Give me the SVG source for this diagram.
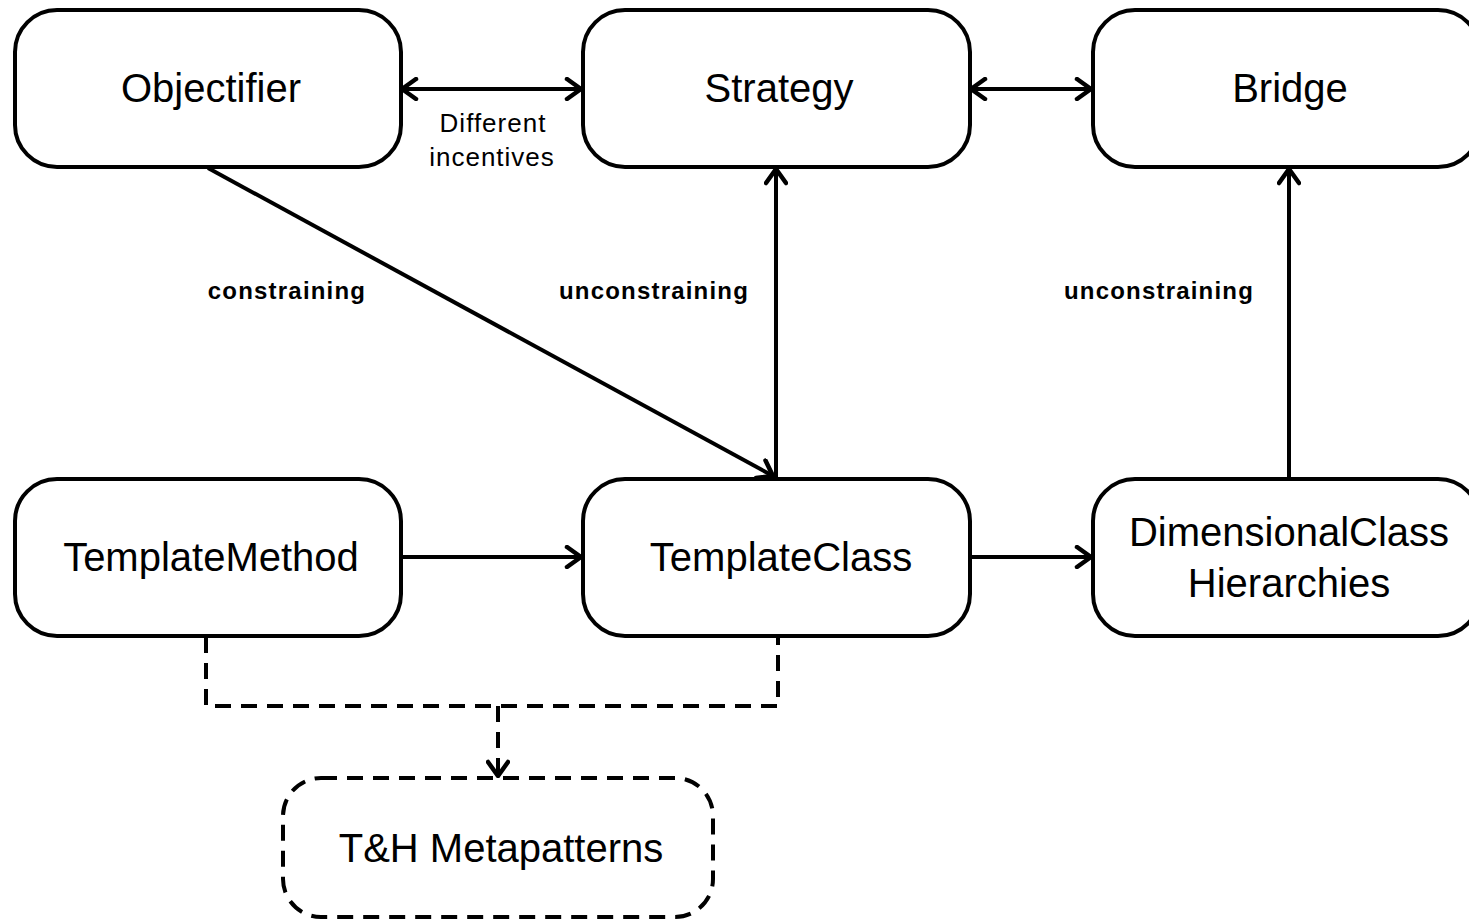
<svg xmlns="http://www.w3.org/2000/svg" width="1469" height="922" viewBox="0 0 1469 922">
  <style>
    .box { fill: #ffffff; stroke: #000000; stroke-width: 4; }
    .dashbox { fill: #ffffff; stroke: #000000; stroke-width: 4; stroke-dasharray: 16 10; }
    .label { font-family: "Liberation Sans", Arial, sans-serif; font-size: 40px; fill: #000000; text-anchor: middle; }
    .small { font-family: "Liberation Sans", Arial, sans-serif; font-size: 26px; letter-spacing: 1px; fill: #000000; text-anchor: middle; }
    .bold { font-family: "Liberation Sans", Arial, sans-serif; font-size: 24px; font-weight: bold; letter-spacing: 1.2px; fill: #000000; text-anchor: middle; }
    .edge { fill: none; stroke: #000000; stroke-width: 4; }
    .dashed { fill: none; stroke: #000000; stroke-width: 4; stroke-dasharray: 16 10; }
  </style>
  <defs>
    <marker id="open" viewBox="0 0 20 24" refX="18" refY="12" markerWidth="20" markerHeight="24" markerUnits="userSpaceOnUse" orient="auto-start-reverse">
      <path d="M4 2 L18 12 L4 22" fill="none" stroke="#000000" stroke-width="4.5" stroke-linecap="round" stroke-linejoin="round"/>
    </marker>
  </defs>
  <rect width="1469" height="922" fill="#ffffff"/>

  <g id="connectors">
    <line class="edge" x1="402" y1="89" x2="581" y2="89" marker-start="url(#open)" marker-end="url(#open)"/>
    <line class="edge" x1="971" y1="89" x2="1091" y2="89" marker-start="url(#open)" marker-end="url(#open)"/>
    <line class="edge" x1="208" y1="168" x2="773" y2="476" marker-end="url(#open)"/>
    <line class="edge" x1="776" y1="478" x2="776" y2="169" marker-end="url(#open)"/>
    <line class="edge" x1="1289" y1="478" x2="1289" y2="169" marker-end="url(#open)"/>
    <line class="edge" x1="402" y1="557" x2="581" y2="557" marker-end="url(#open)"/>
    <line class="edge" x1="971" y1="557" x2="1091" y2="557" marker-end="url(#open)"/>
    <path class="dashed" d="M206 637 V706 H778 V637"/>
    <path class="dashed" d="M498 706 V776" marker-end="url(#open)"/>
    <text class="small" x="493" y="132">Different</text>
    <text class="small" x="492" y="166">incentives</text>
    <text class="bold" x="287" y="299">constraining</text>
    <text class="bold" x="654" y="299">unconstraining</text>
    <text class="bold" x="1159" y="299">unconstraining</text>
  </g>

  <g id="objectifier">
    <rect class="box" x="15" y="10" width="386" height="157" rx="42"/>
    <text class="label" x="211" y="102">Objectifier</text>
  </g>
  <g id="strategy">
    <rect class="box" x="583" y="10" width="387" height="157" rx="42"/>
    <text class="label" x="779" y="102">Strategy</text>
  </g>
  <g id="bridge">
    <rect class="box" x="1093" y="10" width="387" height="157" rx="42"/>
    <text class="label" x="1290" y="102">Bridge</text>
  </g>
  <g id="template-method">
    <rect class="box" x="15" y="479" width="386" height="157" rx="42"/>
    <text class="label" x="211" y="571">TemplateMethod</text>
  </g>
  <g id="template-class">
    <rect class="box" x="583" y="479" width="387" height="157" rx="42"/>
    <text class="label" x="781" y="571">TemplateClass</text>
  </g>
  <g id="dimensional-class-hierarchies">
    <rect class="box" x="1093" y="479" width="387" height="157" rx="42"/>
    <text class="label" x="1289" y="546">DimensionalClass</text>
    <text class="label" x="1289" y="597">Hierarchies</text>
  </g>
  <g id="th-metapatterns">
    <rect class="dashbox" x="283" y="778" width="430" height="139" rx="38"/>
    <text class="label" x="501" y="862">T&amp;H Metapatterns</text>
  </g>
</svg>
